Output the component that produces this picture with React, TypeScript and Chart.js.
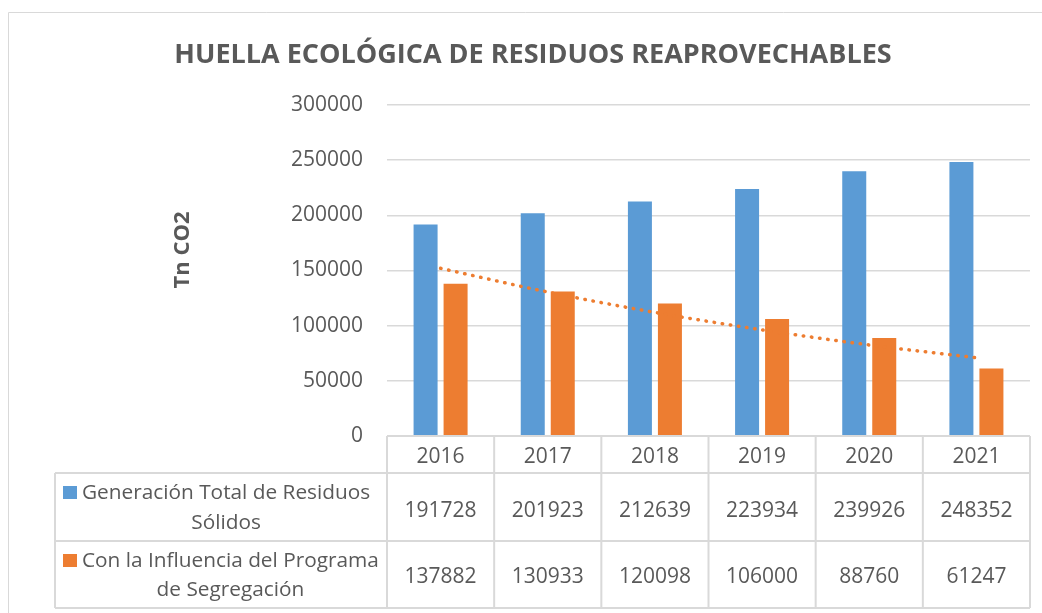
import React, { useEffect, useRef } from 'react';
import { Chart, registerables } from 'chart.js';

Chart.register(...registerables);

const chartTitle = 'HUELLA ECOLÓGICA DE RESIDUOS REAPROVECHABLES';
const yAxisTitle = 'Tn CO2';
const categories = ['2016', '2017', '2018', '2019', '2020', '2021'];
const seriesLabels = [
  ['Generación Total de Residuos', 'Sólidos'],
  ['Con la Influencia del Programa', 'de Segregación'],
];
const totalGeneration = [191728, 201923, 212639, 223934, 239926, 248352];
const withSegregation = [137882, 130933, 120098, 106000, 88760, 61247];
// exponential trend line of the second series
const trendValues = [152000, 130500, 112000, 96200, 82500, 70900];
const yMin = 0;
const yMax = 300000;
const yStep = 50000;

const BLUE = '#5B9BD5';
const ORANGE = '#ED7D31';
const TEXT = '#595959';
const GRID = '#D9D9D9';
const FONT = '"Open Sans", "DejaVu Sans", sans-serif';

const extrasPlugin = {
  id: 'excelExtras',
  afterDraw(chart: any) {
    const { ctx, chartArea, scales } = chart;
    const xs = scales.x;
    ctx.save();

    // outer chart frame
    ctx.strokeStyle = GRID;
    ctx.lineWidth = 1;
    ctx.beginPath();
    ctx.moveTo(8.5, chart.height);
    ctx.lineTo(8.5, 12.5);
    ctx.lineTo(chart.width, 12.5);
    ctx.stroke();

    // title
    ctx.fillStyle = TEXT;
    ctx.font = `bold 27px ${FONT}`;
    ctx.textAlign = 'center';
    ctx.textBaseline = 'alphabetic';
    ctx.fillText(chartTitle, 533, 63);

    // y axis title
    ctx.save();
    ctx.translate(189, 250);
    ctx.rotate(-Math.PI / 2);
    ctx.font = `bold 22px ${FONT}`;
    ctx.textAlign = 'center';
    ctx.fillText(yAxisTitle, 0, 0);
    ctx.restore();

    // data table
    const n = categories.length;
    const colW = (chartArea.right - chartArea.left) / n;
    const left = chartArea.left;
    const right = chartArea.right;
    const top = chartArea.bottom;
    const rowY = [top, 473, 541, 608];
    const labelLeft = 55;

    ctx.strokeStyle = GRID;
    ctx.lineWidth = 2;
    ctx.beginPath();
    ctx.moveTo(left, rowY[0]);
    ctx.lineTo(right, rowY[0]);
    for (let r = 1; r < rowY.length; r++) {
      ctx.moveTo(labelLeft, rowY[r]);
      ctx.lineTo(right, rowY[r]);
    }
    for (let i = 0; i <= n; i++) {
      const x = left + i * colW;
      ctx.moveTo(x, rowY[0]);
      ctx.lineTo(x, rowY[3]);
    }
    ctx.moveTo(labelLeft, rowY[1]);
    ctx.lineTo(labelLeft, rowY[3]);
    ctx.stroke();

    ctx.fillStyle = TEXT;
    ctx.font = `21px ${FONT}`;
    ctx.textAlign = 'center';
    categories.forEach((c, i) => {
      const cx = xs.getPixelForValue(i);
      ctx.fillText(c, cx, 463);
      ctx.fillText(String(totalGeneration[i]), cx, 517);
      ctx.fillText(String(withSegregation[i]), cx, 583);
    });

    ctx.font = `20.8px ${FONT}`;
    const rows = [
      { color: BLUE, lines: seriesLabels[0], base: [499, 529] },
      { color: ORANGE, lines: seriesLabels[1], base: [567, 596] },
    ];
    rows.forEach((row) => {
      const textLeft = 82;
      const w1 = ctx.measureText(row.lines[0]).width;
      ctx.fillStyle = row.color;
      ctx.fillRect(63, row.base[0] - 13, 14, 13);
      ctx.fillStyle = TEXT;
      ctx.textAlign = 'left';
      ctx.fillText(row.lines[0], textLeft, row.base[0]);
      ctx.textAlign = 'center';
      ctx.fillText(row.lines[1], textLeft + w1 / 2, row.base[1]);
    });

    ctx.restore();
  },
};

export default function App() {
  const canvasRef = useRef<HTMLCanvasElement | null>(null);

  useEffect(() => {
    document.body.style.margin = '0';
    const canvas = canvasRef.current;
    if (!canvas) return;
    const chart = new Chart(canvas, {
      type: 'bar',
      data: {
        labels: categories,
        datasets: [
          {
            type: 'line',
            label: 'Tendencia',
            data: trendValues,
            borderColor: ORANGE,
            borderWidth: 3.5,
            borderDash: [0.5, 7.7],
            borderCapStyle: 'round',
            pointRadius: 0,
            cubicInterpolationMode: 'monotone',
            fill: false,
            order: 0,
          } as any,
          {
            label: seriesLabels[0].join(' '),
            data: totalGeneration,
            backgroundColor: BLUE,
            categoryPercentage: 0.56,
            barPercentage: 0.8,
            order: 1,
          },
          {
            label: seriesLabels[1].join(' '),
            data: withSegregation,
            backgroundColor: ORANGE,
            categoryPercentage: 0.56,
            barPercentage: 0.8,
            order: 1,
          },
        ],
      },
      options: {
        animation: false,
        responsive: false,
        devicePixelRatio: 1,
        layout: { padding: { top: 105, left: 0, right: 12, bottom: 177 } },
        plugins: {
          legend: { display: false },
          title: { display: false },
          tooltip: { enabled: false },
        },
        scales: {
          x: { display: false },
          y: {
            min: yMin,
            max: yMax,
            ticks: {
              stepSize: yStep,
              padding: 24,
              color: TEXT,
              font: { family: FONT, size: 21 },
              callback: (v: any) => String(v),
            },
            grid: { color: GRID, lineWidth: 1.5, drawTicks: false },
            border: { display: false },
            afterFit: (scale: any) => {
              scale.width = 387;
            },
          },
        },
      },
      plugins: [extrasPlugin],
    });
    return () => chart.destroy();
  }, []);

  return (
    <div style={{ width: 1042, height: 613, background: '#fff' }}>
      <canvas ref={canvasRef} width={1042} height={613} style={{ display: 'block' }} />
    </div>
  );
}
